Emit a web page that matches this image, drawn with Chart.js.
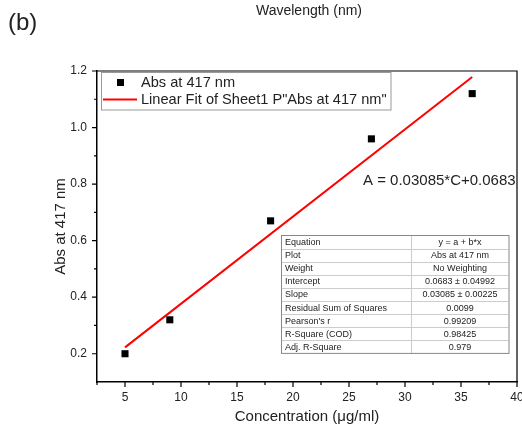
<!DOCTYPE html>
<html>
<head>
<meta charset="utf-8">
<script src="https://cdn.jsdelivr.net/npm/chart.js@4/dist/chart.umd.min.js"></script>
<style>
  html, body { margin: 0; padding: 0; background: #fff; }
  #wrap { width: 522px; height: 426px; }
</style>
</head>
<body>
<div id="wrap"><canvas id="calib" width="522" height="426"></canvas></div>
<script>
// calibration points
const concentration = [5, 9, 18, 27, 36];
const absorbance = [0.20, 0.32, 0.67, 0.96, 1.12];

// linear fit A = b*C + a
const fitSlope = 0.03085;
const fitIntercept = 0.0683;
const fitRange = [5, 36];

const xTicks = [5, 10, 15, 20, 25, 30, 35, 40];
const xMinorTicks = [2.5, 7.5, 12.5, 17.5, 22.5, 27.5, 32.5, 37.5];
const yTicks = [0.2, 0.4, 0.6, 0.8, 1.0, 1.2];
const yMinorTicks = [0.3, 0.5, 0.7, 0.9, 1.1];

const statLabels = ["Equation", "Plot", "Weight", "Intercept", "Slope",
  "Residual Sum of Squares", "Pearson's r", "R-Square (COD)", "Adj. R-Square"];
const statValues = ["y = a + b*x", "Abs at 417 nm", "No Weighting", "0.0683 \u00b1 0.04992",
  "0.03085 \u00b1 0.00225", "0.0099", "0.99209", "0.98425", "0.979"];

const FONT = "Arial, 'Liberation Sans', sans-serif";
const INK = "#222";

const fitLine = fitRange.map(c => ({ x: c, y: fitIntercept + fitSlope * c }));
const points = concentration.map((c, i) => ({ x: c, y: absorbance[i] }));

const extras = {
  id: "extras",
  afterDraw(chart) {
    const ctx = chart.ctx;
    const { left, right, top, bottom } = chart.chartArea;
    const xs = chart.scales.x, ys = chart.scales.y;
    ctx.save();

    // frame on top and right
    ctx.strokeStyle = "#000";
    ctx.lineWidth = 1.2;
    ctx.beginPath();
    ctx.moveTo(left, top); ctx.lineTo(right, top); ctx.lineTo(right, bottom);
    ctx.stroke();

    // outward tick marks
    ctx.lineWidth = 1.2;
    ctx.beginPath();
    xTicks.forEach(v => { const p = xs.getPixelForValue(v); ctx.moveTo(p, bottom); ctx.lineTo(p, bottom + 5); });
    xMinorTicks.forEach(v => { const p = xs.getPixelForValue(v); ctx.moveTo(p, bottom); ctx.lineTo(p, bottom + 3); });
    yTicks.forEach(v => { const p = ys.getPixelForValue(v); ctx.moveTo(left, p); ctx.lineTo(left - 5, p); });
    yMinorTicks.forEach(v => { const p = ys.getPixelForValue(v); ctx.moveTo(left, p); ctx.lineTo(left - 3, p); });
    ctx.stroke();

    // headings
    ctx.fillStyle = INK;
    ctx.textBaseline = "middle";
    ctx.font = "24px " + FONT;
    ctx.textAlign = "left";
    ctx.fillText("(b)", 8, 23);
    ctx.font = "14px " + FONT;
    ctx.textAlign = "center";
    ctx.fillText("Wavelength (nm)", 309, 11);

    // legend
    ctx.strokeStyle = "#999";
    ctx.lineWidth = 1;
    ctx.strokeRect(101.5, 72.5, 289.5, 37.5);
    ctx.fillStyle = "#000";
    ctx.fillRect(117, 79, 7, 7);
    ctx.strokeStyle = "#ff0000";
    ctx.lineWidth = 2;
    ctx.beginPath(); ctx.moveTo(103, 99.5); ctx.lineTo(137, 99.5); ctx.stroke();
    ctx.fillStyle = INK;
    ctx.font = "14.6px " + FONT;
    ctx.textAlign = "left";
    ctx.fillText("Abs at 417 nm", 141, 83);
    ctx.fillText("Linear Fit of Sheet1 P\"Abs at 417 nm\"", 141, 100);

    // fitted equation
    ctx.font = "15px " + FONT;
    ctx.fillText("A = " + fitSlope + "*C+" + fitIntercept, 363, 181);

    // fit statistics table
    const tl = 281, tr = 508.5, tt = 235.5, rh = 13.1, cd = 411.5;
    const tb = tt + rh * statLabels.length;
    ctx.strokeStyle = "#ccc";
    ctx.lineWidth = 1;
    ctx.beginPath();
    for (let i = 1; i < statLabels.length; i++) {
      const y = Math.round(tt + rh * i) + 0.5;
      ctx.moveTo(tl, y); ctx.lineTo(tr, y);
    }
    ctx.moveTo(cd, tt); ctx.lineTo(cd, tb);
    ctx.stroke();
    ctx.strokeStyle = "#888";
    ctx.strokeRect(tl + 0.5, tt, tr - tl, tb - tt);
    ctx.font = "9px " + FONT;
    ctx.fillStyle = INK;
    statLabels.forEach((s, i) => {
      const y = tt + rh * i + rh / 2 + 0.5;
      ctx.textAlign = "left";
      ctx.fillText(s, tl + 4, y);
      ctx.textAlign = "center";
      ctx.fillText(statValues[i], (cd + tr) / 2, y);
    });

    ctx.restore();
  }
};

new Chart(document.getElementById("calib"), {
  type: "scatter",
  data: {
    datasets: [
      {
        label: "Abs at 417 nm",
        data: points,
        pointStyle: "rect",
        pointRadius: 5,
        backgroundColor: "#000",
        borderColor: "#000",
        borderWidth: 0
      },
      {
        type: "line",
        label: "Linear Fit",
        data: fitLine,
        borderColor: "#ff0000",
        borderWidth: 2,
        pointRadius: 0,
        fill: false
      }
    ]
  },
  options: {
    responsive: false,
    animation: false,
    layout: { padding: { top: 71, right: 3, left: 0, bottom: 0 } },
    plugins: { legend: { display: false }, tooltip: { enabled: false } },
    scales: {
      x: {
        type: "linear",
        min: 2.5,
        max: 40,
        afterBuildTicks: s => { s.ticks = xTicks.map(v => ({ value: v })); },
        afterFit: s => { s.height = 44; s.paddingLeft = 0; s.paddingRight = 0; },
        grid: { display: false, drawTicks: false },
        border: { display: true, color: "#000", width: 1.5 },
        ticks: { font: { family: FONT, size: 12 }, color: INK, padding: 8, maxRotation: 0, autoSkip: false },
        title: { display: true, text: "Concentration (\u03bcg/ml)", color: INK,
                 font: { family: FONT, size: 15 }, padding: { top: 0, bottom: 0 } }
      },
      y: {
        min: 0.1,
        max: 1.2,
        afterBuildTicks: s => { s.ticks = yTicks.map(v => ({ value: v })); },
        afterFit: s => { s.width = 97; s.paddingTop = 0; s.paddingBottom = 0; },
        grid: { display: false, drawTicks: false },
        border: { display: true, color: "#000", width: 1.5 },
        ticks: { font: { family: FONT, size: 12 }, color: INK, padding: 10,
                 callback: v => v.toFixed(1) },
        title: { display: true, text: "Abs at 417 nm", color: INK,
                 font: { family: FONT, size: 15 }, padding: { top: 52, bottom: 0 } }
      }
    }
  },
  plugins: [extras]
});
</script>
</body>
</html>
